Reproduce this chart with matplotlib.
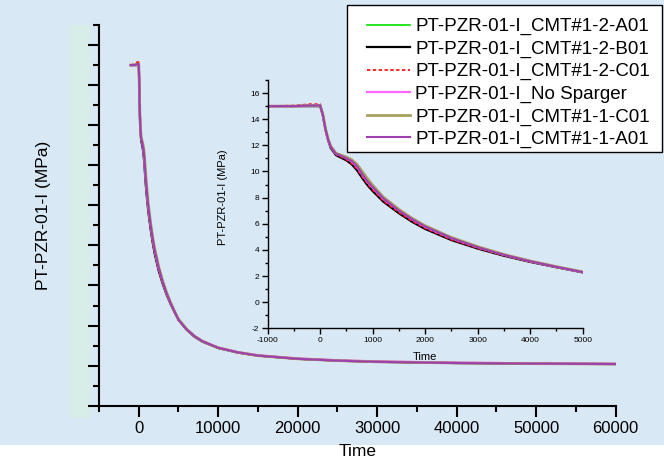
import numpy as np
import matplotlib
matplotlib.use("Agg")
from matplotlib import pyplot as plt
from matplotlib.patches import Rectangle
from matplotlib.ticker import MultipleLocator

plt.rcParams['font.family'] = ['Liberation Sans', 'DejaVu Sans']
plt.rcParams['axes.unicode_minus'] = False

# time (s) and pressure (MPa)
time = [-1000, -500, -200, 0, 50, 100, 150, 200, 300, 400, 500, 600, 700, 800, 900,
        1000, 1200, 1500, 1750, 2000, 2500, 3000, 3500, 4000, 4500, 5000, 6000, 7000,
        8000, 10000, 12500, 15000, 20000, 25000, 30000, 40000, 50000, 60000]

cmt_12_a01 = [15.0, 15.0, 15.1, 15.1, 14.4, 13.3, 12.5, 11.9, 11.35, 11.15, 10.95, 10.7, 10.3, 9.7, 9.15,
              8.7, 7.85, 6.95, 6.3, 5.72, 4.85, 4.18, 3.6, 3.12, 2.7, 2.3, 1.82, 1.47,
              1.22, 0.89, 0.66, 0.5, 0.34, 0.25, 0.19, 0.13, 0.1, 0.08]
cmt_12_b01 = [15.0, 15.0, 15.0, 15.0, 14.3, 13.2, 12.4, 11.8, 11.25, 11.05, 10.85, 10.55, 10.1, 9.5, 8.95,
              8.5, 7.7, 6.8, 6.15, 5.6, 4.75, 4.1, 3.55, 3.08, 2.67, 2.28, 1.8, 1.45,
              1.2, 0.88, 0.65, 0.5, 0.34, 0.25, 0.19, 0.13, 0.1, 0.08]
cmt_12_c01 = [15.0, 15.05, 15.15, 15.15, 14.3, 13.2, 12.4, 11.85, 11.3, 11.1, 10.9, 10.6, 10.2, 9.6, 9.05,
              8.6, 7.75, 6.85, 6.2, 5.65, 4.78, 4.12, 3.56, 3.09, 2.68, 2.28, 1.8, 1.45,
              1.2, 0.87, 0.64, 0.49, 0.33, 0.25, 0.19, 0.13, 0.1, 0.08]
no_sparger = [15.0, 15.0, 15.05, 15.05, 14.35, 13.25, 12.45, 11.9, 11.35, 11.2, 11.0, 10.75, 10.35, 9.75, 9.2,
              8.75, 7.9, 7.0, 6.33, 5.75, 4.88, 4.2, 3.62, 3.13, 2.7, 2.3, 1.83, 1.48,
              1.23, 0.9, 0.67, 0.52, 0.36, 0.27, 0.21, 0.15, 0.11, 0.09]
cmt_11_c01 = [15.0, 15.0, 15.05, 15.05, 14.4, 13.3, 12.5, 11.95, 11.4, 11.25, 11.1, 10.9, 10.55, 10.0, 9.45,
              8.95, 8.05, 7.1, 6.42, 5.85, 4.95, 4.25, 3.65, 3.15, 2.72, 2.32, 1.83, 1.48,
              1.22, 0.89, 0.66, 0.5, 0.34, 0.25, 0.19, 0.13, 0.1, 0.08]
cmt_11_a01 = [15.0, 15.0, 15.05, 15.05, 14.35, 13.25, 12.45, 11.9, 11.35, 11.2, 11.0, 10.8, 10.4, 9.8, 9.25,
              8.8, 7.95, 7.0, 6.35, 5.78, 4.9, 4.2, 3.62, 3.13, 2.7, 2.3, 1.82, 1.47,
              1.22, 0.89, 0.66, 0.5, 0.34, 0.25, 0.19, 0.13, 0.1, 0.08]

labels = ["PT-PZR-01-I_CMT#1-2-A01", "PT-PZR-01-I_CMT#1-2-B01", "PT-PZR-01-I_CMT#1-2-C01",
          "PT-PZR-01-I_No Sparger", "PT-PZR-01-I_CMT#1-1-C01", "PT-PZR-01-I_CMT#1-1-A01"]
series = [cmt_12_a01, cmt_12_b01, cmt_12_c01, no_sparger, cmt_11_c01, cmt_11_a01]
styles = [
    dict(color="#00e000", lw=1.2),
    dict(color="black", lw=1.6),
    dict(color="#ff0000", lw=1.2, ls=(0, (2, 1.5))),
    dict(color="#ff66ff", lw=1.6),
    dict(color="#a8a060", lw=2.0),
    dict(color="#a040b0", lw=1.5),
]

W, H = 664, 462
bg = "#d9e8f5"
fig = plt.figure(figsize=(W / 100, H / 100), dpi=100)
fig.patch.set_facecolor(bg)
# white strip at the bottom and pale green strip left of the axis
fig.patches.append(Rectangle((0, 0), 1, 17 / H, transform=fig.transFigure,
                             facecolor="white", edgecolor="none", zorder=-5))
fig.patches.append(Rectangle((70 / W, (H - 418) / H), 20 / W, 393 / H, transform=fig.transFigure,
                             facecolor="#d8ece8", edgecolor="none", zorder=-5))


def px_axes(left, top, right, bottom):
    return fig.add_axes([left / W, (H - bottom) / H, (right - left) / W, (bottom - top) / H])


ax = px_axes(99, 25, 615.7, 405.7)
ax.patch.set_alpha(0)
for s, st in zip(series, styles):
    ax.plot(time, s, **st)
ax.set_xlim(-5000, 60000)
ax.set_ylim(-2, 17)
ax.xaxis.set_major_locator(MultipleLocator(10000))
ax.xaxis.set_minor_locator(MultipleLocator(5000))
ax.set_yticks(np.arange(-2, 17, 2))
ax.yaxis.set_minor_locator(MultipleLocator(1))
ax.set_yticklabels([])
for sp in ["top", "right"]:
    ax.spines[sp].set_visible(False)
for sp in ["left", "bottom"]:
    ax.spines[sp].set_linewidth(1.5)
ax.tick_params(which="major", length=8, width=1.5, labelsize=12)
ax.tick_params(which="minor", length=4, width=1.5)
ax.tick_params(axis="x", pad=3)
ax.set_xlabel("Time", fontsize=12.5)
ax.xaxis.set_label_coords(0.5, -0.1)
ax.set_ylabel("PT-PZR-01-I (MPa)", fontsize=12.5)
ax.yaxis.set_label_coords(-0.093, 0.5)

# inset
ins = px_axes(267.7, 80, 582.7, 328.3)
ins.patch.set_alpha(0)
lines = []
for s, lab, st in zip(series, labels, styles):
    ln, = ins.plot(time, s, label=lab, **st)
    lines.append(ln)
ins.set_xlim(-1000, 5000)
ins.set_ylim(-2, 17)
ins.xaxis.set_major_locator(MultipleLocator(1000))
ins.xaxis.set_minor_locator(MultipleLocator(500))
ins.yaxis.set_major_locator(MultipleLocator(2))
ins.yaxis.set_minor_locator(MultipleLocator(1))
for sp in ["top", "right"]:
    ins.spines[sp].set_visible(False)
for sp in ["left", "bottom"]:
    ins.spines[sp].set_linewidth(1.0)
ins.tick_params(which="major", length=4, width=1, labelsize=6, pad=2)
ins.tick_params(which="minor", length=2, width=1)
ins.set_xlabel("Time", fontsize=8)
ins.xaxis.set_label_coords(0.5, -0.095)
ins.set_ylabel("PT-PZR-01-I (MPa)", fontsize=8)
ins.yaxis.set_label_coords(-0.125, 0.53)

# legend: white box drawn separately, entries placed inside it
fig.patches.append(Rectangle((347 / W, (H - 152) / H), 315 / W, 147 / H, transform=fig.transFigure,
                             facecolor="white", edgecolor="black", lw=1.0, zorder=5))
leg = fig.legend(lines, labels, loc="upper left", bbox_to_anchor=(367 / W, (H - 18) / H),
                 fontsize=13.5, frameon=False, handlelength=2.3, handletextpad=0.27,
                 labelspacing=0.28, borderpad=0, borderaxespad=0)
leg.set_zorder(6)

fig.savefig("out.png", dpi=100, facecolor=fig.get_facecolor())
